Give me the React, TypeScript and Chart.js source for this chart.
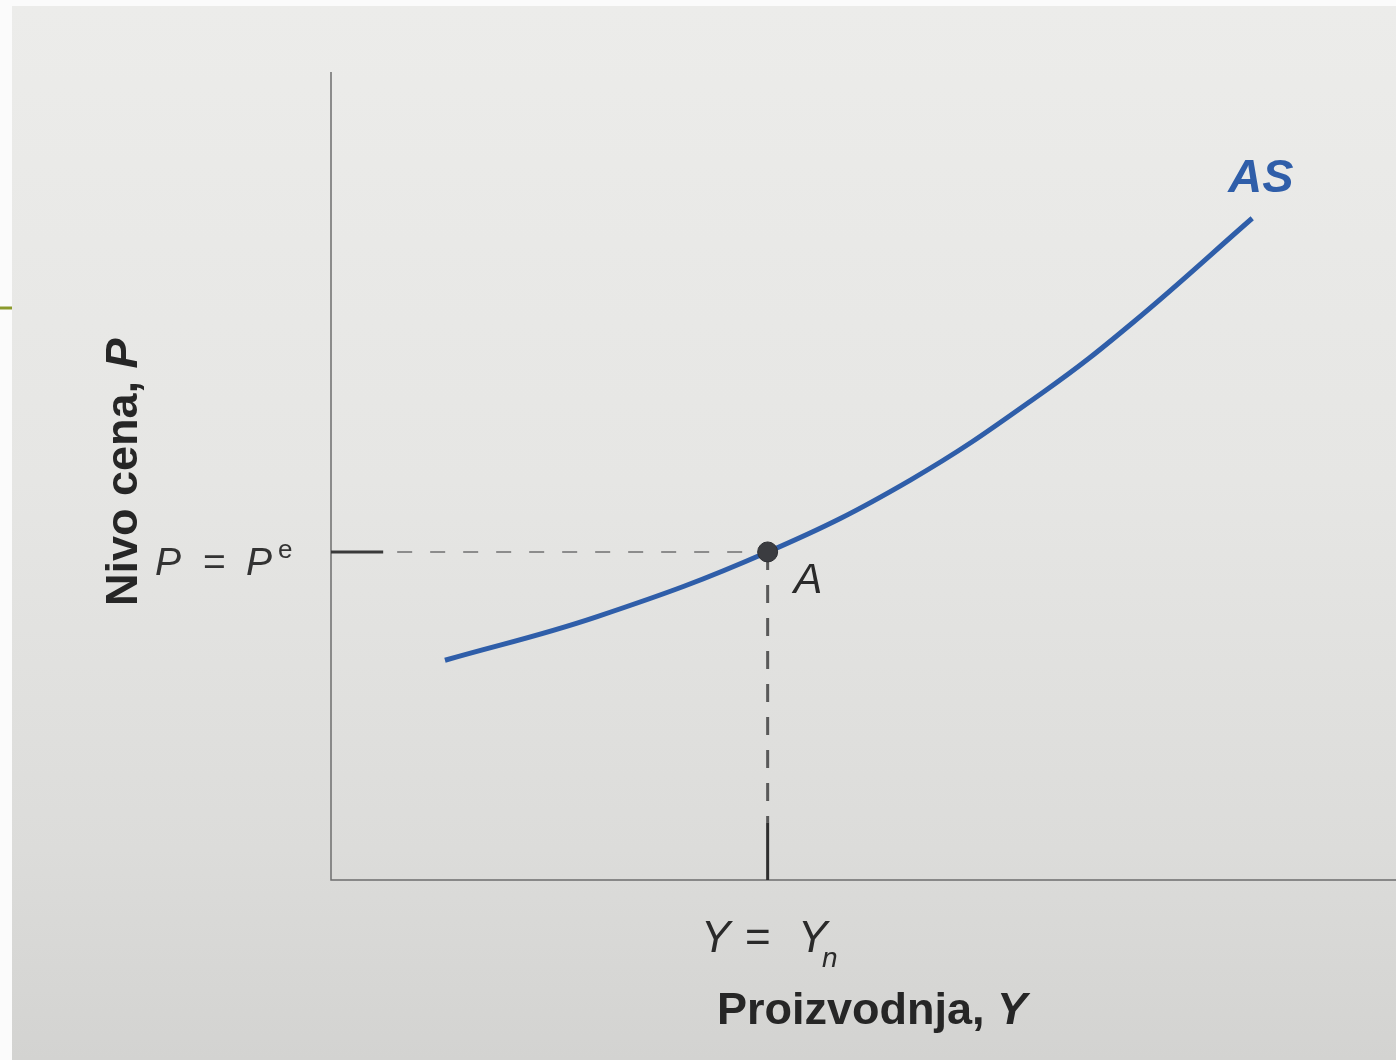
import React, { useEffect, useRef } from "react";
import { Chart, registerables } from "chart.js";

Chart.register(...registerables);

// ---- data (chart units: x 0..100, y 0..100) ----
const curveX = [10.7, 25.0, 41.0, 54.4, 66.9, 75.3, 86.5];
const curveY = [27.2, 32.6, 40.6, 49.5, 60.4, 69.0, 81.9];
const pointAX = [41.0];
const pointAY = [40.6];
const hSolidX = [0, 4.9];
const vSolidY = [0, 7.1];
const xRange = [0, 100];
const yRange = [0, 100];

// ---- labels ----
const curveLabel = "AS";
const pointLabel = "A";
const xTitle = "Proizvodnja, ";
const xTitleVar = "Y";
const yTitle = "Nivo cena, ";
const yTitleVar = "P";

const BLUE = "#2f5ea9";
const SANS = '"Liberation Sans", Arial, Helvetica, sans-serif';

export default function App() {
  const ref = useRef<HTMLCanvasElement | null>(null);

  useEffect(() => {
    document.body.style.margin = "0";
    const canvas = ref.current;
    if (!canvas) return;

    const bgPlugin = {
      id: "paper",
      beforeDraw(chart: any) {
        const ctx = chart.ctx;
        ctx.save();
        ctx.fillStyle = "#fbfbfb";
        ctx.fillRect(0, 0, chart.width, chart.height);
        const g = ctx.createLinearGradient(0, 6, 0, chart.height);
        g.addColorStop(0, "#ececea");
        g.addColorStop(0.45, "#e6e6e4");
        g.addColorStop(0.8, "#dcdcda");
        g.addColorStop(1, "#d3d3d1");
        ctx.fillStyle = g;
        ctx.fillRect(12, 6, chart.width - 12, chart.height - 6);
        // slide decoration
        ctx.strokeStyle = "#8b9a2c";
        ctx.lineWidth = 3;
        ctx.beginPath();
        ctx.moveTo(0, 308);
        ctx.lineTo(12, 308);
        ctx.stroke();
        ctx.restore();
      },
      beforeDatasetsDraw(chart: any) {
        const ctx = chart.ctx;
        const xs = chart.scales.x;
        const ys = chart.scales.y;
        const x0 = xs.getPixelForValue(xRange[0]);
        const y0 = ys.getPixelForValue(yRange[0]);
        ctx.save();
        ctx.strokeStyle = "#6e6e6e";
        ctx.lineWidth = 1.5;
        ctx.beginPath();
        ctx.moveTo(x0, ys.getPixelForValue(yRange[1]));
        ctx.lineTo(x0, y0);
        ctx.lineTo(xs.getPixelForValue(xRange[1]), y0);
        ctx.stroke();
        ctx.restore();
      },
      afterDraw(chart: any) {
        const ctx = chart.ctx;
        const xs = chart.scales.x;
        const ys = chart.scales.y;
        const ax = xs.getPixelForValue(pointAX[0]);
        const ay = ys.getPixelForValue(pointAY[0]);
        const ex = xs.getPixelForValue(curveX[curveX.length - 1]);
        const ey = ys.getPixelForValue(curveY[curveY.length - 1]);
        ctx.save();
        ctx.textBaseline = "alphabetic";
        ctx.textAlign = "left";

        // AS label
        ctx.fillStyle = BLUE;
        ctx.font = `italic bold 47px ${SANS}`;
        ctx.fillText(curveLabel, ex - 24, ey - 26);

        // A label
        ctx.fillStyle = "#2a2a2a";
        ctx.font = `italic 43px ${SANS}`;
        ctx.fillText(pointLabel, ax + 26, ay + 41);

        // P = P^e
        ctx.fillStyle = "#333333";
        ctx.font = `italic 39px ${SANS}`;
        ctx.fillText("P", 155, ay + 23);
        ctx.font = `39px ${SANS}`;
        ctx.fillText("=", 203, ay + 23);
        ctx.font = `italic 39px ${SANS}`;
        ctx.fillText("P", 246, ay + 23);
        ctx.font = `26px ${SANS}`;
        ctx.fillText("e", 278, ay + 6);

        // Y = Y_n
        const xb = ys.getPixelForValue(yRange[0]);
        ctx.fillStyle = "#2a2a2a";
        ctx.font = `italic 44px ${SANS}`;
        ctx.fillText("Y", 701, xb + 72);
        ctx.font = `44px ${SANS}`;
        ctx.fillText("=", 745, xb + 72);
        ctx.font = `italic 44px ${SANS}`;
        ctx.fillText("Y", 798, xb + 72);
        ctx.font = `italic 28px ${SANS}`;
        ctx.fillText("n", 822, xb + 87);

        // x title
        ctx.fillStyle = "#262626";
        ctx.font = `bold 45px ${SANS}`;
        ctx.fillText(xTitle, 717, xb + 144);
        const w = ctx.measureText(xTitle).width;
        ctx.font = `italic bold 45px ${SANS}`;
        ctx.fillText(xTitleVar, 717 + w, xb + 144);

        // y title (rotated)
        ctx.save();
        ctx.translate(137, 606);
        ctx.rotate(-Math.PI / 2);
        ctx.font = `bold 45px ${SANS}`;
        ctx.fillText(yTitle, 0, 0);
        const wy = ctx.measureText(yTitle).width;
        ctx.font = `italic bold 45px ${SANS}`;
        ctx.fillText(yTitleVar, wy, 0);
        ctx.restore();

        ctx.restore();
      },
    };

    const chart = new Chart(canvas, {
      type: "scatter",
      data: {
        datasets: [
          {
            label: "A",
            data: pointAX.map((x, i) => ({ x, y: pointAY[i] })),
            pointRadius: 10,
            pointBackgroundColor: "#3b3c40",
            pointBorderColor: "#2e2f33",
            pointBorderWidth: 1,
            showLine: false,
          },
          {
            label: "AS",
            data: curveX.map((x, i) => ({ x, y: curveY[i] })),
            showLine: true,
            borderColor: BLUE,
            borderWidth: 5,
            pointRadius: 0,
            tension: 0.4,
            borderCapStyle: "butt",
          },
          {
            label: "hSolid",
            data: hSolidX.map((x) => ({ x, y: pointAY[0] })),
            showLine: true,
            borderColor: "#3a3a3a",
            borderWidth: 3,
            pointRadius: 0,
          },
          {
            label: "vSolid",
            data: vSolidY.map((y) => ({ x: pointAX[0], y })),
            showLine: true,
            borderColor: "#2e2e2e",
            borderWidth: 3,
            pointRadius: 0,
          },
          {
            label: "hDash",
            data: [
              { x: hSolidX[1], y: pointAY[0] },
              { x: pointAX[0], y: pointAY[0] },
            ],
            showLine: true,
            borderColor: "#8c8c8c",
            borderWidth: 2,
            borderDash: [15, 18],
            borderDashOffset: -14,
            pointRadius: 0,
          },
          {
            label: "vDash",
            data: [
              { x: pointAX[0], y: pointAY[0] },
              { x: pointAX[0], y: vSolidY[1] },
            ],
            showLine: true,
            borderColor: "#595959",
            borderWidth: 3,
            borderDash: [18, 15],
            pointRadius: 0,
          },
        ],
      },
      options: {
        animation: false,
        responsive: false,
        devicePixelRatio: 1,
        layout: { autoPadding: false, padding: { left: 331, right: 0, top: 72, bottom: 180 } },
        plugins: {
          legend: { display: false },
          tooltip: { enabled: false },
          title: { display: false },
        },
        scales: {
          x: { type: "linear", min: xRange[0], max: xRange[1], display: false },
          y: { type: "linear", min: yRange[0], max: yRange[1], display: false },
        },
      },
      plugins: [bgPlugin],
    } as any);

    return () => chart.destroy();
  }, []);

  return (
    <div style={{ width: 1396, height: 1060 }}>
      <canvas ref={ref} width={1396} height={1060} style={{ display: "block" }} />
    </div>
  );
}
